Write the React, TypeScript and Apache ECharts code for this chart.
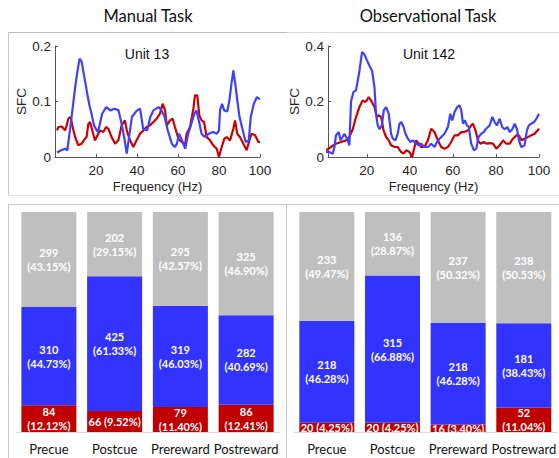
import { useEffect, useRef } from 'react';
import * as echarts from 'echarts';

// ---- Line charts: spike-field coherence (frequency Hz, SFC) ----
const manualBlue: [number, number][] = [
  [1,0.008],[3,0.012],[5,0.015],[6,0.012],[7,0.04],[8,0.069],[9,0.1],[10,0.13],[11,0.156],[12,0.177],[13,0.172],[14,0.15],[15,0.13],[16,0.108],[17,0.09],[18,0.075],[19,0.057],[20,0.05],[21,0.045],[23,0.078],[25,0.09],[27,0.084],[29,0.087],[31,0.084],[32.5,0.06],[34,0.03],[35,0.006],[37.5,0.072],[40,0.084],[41.5,0.087],[43,0.051],[45,0.048],[46.5,0.072],[48,0.084],[50.5,0.09],[52,0.084],[53.5,0.072],[55,0.048],[57,0.024],[58.5,0.018],[59.5,0.024],[60.5,0.042],[62,0.03],[63.5,0.015],[65,0.042],[66.5,0.06],[68,0.078],[69,0.084],[70.5,0.06],[71.5,0.042],[73,0.036],[75,0.042],[77,0.045],[79,0.042],[80,0.048],[80.5,0.084],[81.5,0.096],[82.5,0.084],[84,0.082],[85,0.1],[86,0.13],[87,0.156],[88,0.13],[89,0.1],[90,0.072],[92,0.042],[93,0.027],[94.5,0.03],[95.5,0.072],[97,0.096],[98.5,0.108],[100,0.104]
];
const manualRed: [number, number][] = [
  [1,0.048],[1.6,0.054],[3.3,0.055],[4.9,0.048],[5.7,0.057],[6.5,0.069],[7.6,0.072],[8.6,0.054],[9.8,0.036],[11.4,0.021],[13,0.024],[14.6,0.033],[15.4,0.036],[16.3,0.06],[17.1,0.063],[18.4,0.045],[19.5,0.03],[21.1,0.042],[22,0.048],[23.6,0.045],[24.9,0.054],[26,0.051],[27.6,0.036],[29.3,0.024],[30.9,0.03],[32.5,0.057],[34.1,0.066],[35,0.048],[36.6,0.03],[38.2,0.018],[39.8,0.03],[41.5,0.042],[43.1,0.048],[44.7,0.054],[46.3,0.057],[48,0.063],[49.6,0.069],[51.2,0.078],[52.5,0.096],[53.7,0.084],[54.5,0.057],[56.1,0.066],[57.4,0.069],[58.5,0.054],[60.2,0.033],[61.8,0.027],[63.4,0.021],[64.2,0.042],[65.9,0.054],[67.5,0.087],[68.3,0.111],[69.4,0.111],[70.4,0.075],[71.5,0.066],[72.7,0.063],[74,0.036],[75.6,0.03],[77.2,0.021],[78.9,0.015],[80,0],[81.3,0.018],[82.6,0.033],[83.7,0.036],[85.4,0.03],[87,0.051],[87.8,0.066],[88.9,0.042],[90.2,0.036],[91.9,0.024],[93.5,0.012],[94.8,0.03],[95.9,0.042],[97.6,0.039],[99.2,0.027],[100,0.027]
];
const obsBlue: [number, number][] = [
  [1.1,0.018],[2.6,0.018],[4.2,0.012],[5,0.036],[5.7,0.078],[7,0.09],[7.8,0.06],[8.8,0.072],[9.6,0.084],[11.2,0.06],[11.9,0.042],[12.7,0.2],[13.8,0.234],[15,0.24],[16.6,0.31],[17.8,0.378],[18.9,0.37],[20,0.35],[21.2,0.33],[22.5,0.31],[23.6,0.25],[24.3,0.156],[25.1,0.114],[25.9,0.1],[27,0.114],[27.9,0.168],[29,0.18],[30.2,0.156],[31.3,0.084],[32.1,0.066],[33.3,0.06],[34.4,0.084],[35.2,0.12],[36,0.126],[37.1,0.108],[38,0.084],[39.1,0.066],[40.3,0.054],[41.4,0.06],[42.9,0.048],[44.2,0.042],[45.3,0.048],[46.8,0.036],[48.4,0.036],[49.9,0.048],[51.5,0.036],[52.2,0.048],[53.8,0.066],[56.1,0.084],[57.7,0.108],[58.8,0.156],[59.7,0.132],[60.8,0.162],[62,0.18],[63.1,0.186],[63.9,0.168],[64.7,0.12],[65.6,0.132],[66.5,0.114],[67.4,0.108],[68.5,0.048],[69.8,0.024],[70.9,0.03],[71.9,0.072],[73.2,0.084],[74.3,0.09],[75.2,0.1],[76.3,0.108],[77.1,0.114],[78.3,0.144],[79.4,0.126],[80.5,0.114],[81.7,0.138],[82.9,0.108],[84,0.1],[85.3,0.108],[86.4,0.09],[87.6,0.1],[88.7,0.12],[89.8,0.1],[90.7,0.06],[91.8,0.036],[93.3,0.042],[94.4,0.096],[95.3,0.114],[96.4,0.12],[97.7,0.126],[98.8,0.138],[100,0.156]
];
const obsRed: [number, number][] = [
  [1.1,0.024],[3.4,0.036],[5.7,0.048],[8.1,0.054],[10.4,0.06],[11.9,0.072],[13.5,0.1],[15,0.144],[16.6,0.18],[18.1,0.204],[19.2,0.198],[20,0.204],[20.9,0.216],[22,0.204],[23.6,0.18],[24.7,0.144],[25.6,0.15],[26.7,0.144],[27.8,0.096],[29,0.072],[30.2,0.06],[31.3,0.042],[32.9,0.036],[34.4,0.036],[36,0.018],[37.1,0.012],[38.3,0.024],[39.8,0.018],[41.1,0],[42.2,0.036],[42.9,0.06],[44.2,0.048],[45.3,0.036],[46.8,0.036],[48.4,0.06],[49.9,0.102],[51.5,0.09],[53,0.06],[54.6,0.036],[56.1,0.03],[57.7,0.036],[59.2,0.054],[60.8,0.078],[62.3,0.078],[63.9,0.09],[65.4,0.09],[67,0.096],[68.5,0.114],[69.3,0.12],[70.5,0.096],[71.6,0.06],[72.9,0.048],[74.3,0.054],[75.5,0.048],[77.1,0.05],[78.6,0.048],[80.2,0.03],[81.7,0.042],[83.3,0.06],[84.8,0.048],[86.4,0.048],[87.9,0.066],[89.5,0.078],[90.7,0.078],[91.8,0.06],[93.3,0.066],[94.9,0.072],[96.4,0.078],[98,0.084],[100,0.102]
];
const freqTicks = [20, 40, 60, 80, 100];

// ---- Stacked bars: unit counts and percentages per epoch ----
const categories = ['Precue', 'Postcue', 'Prereward', 'Postreward'];
const manualRedCount = [84, 66, 79, 86];
const manualRedPct = [12.12, 9.52, 11.40, 12.41];
const manualBlueCount = [310, 425, 319, 282];
const manualBluePct = [44.73, 61.33, 46.03, 40.69];
const manualGreyCount = [299, 202, 295, 325];
const manualGreyPct = [43.15, 29.15, 42.57, 46.90];

const obsRedCount = [20, 20, 16, 52];
const obsRedPct = [4.25, 4.25, 3.40, 11.04];
const obsBlueCount = [218, 315, 218, 181];
const obsBluePct = [46.28, 66.88, 46.28, 38.43];
const obsGreyCount = [233, 136, 237, 238];
const obsGreyPct = [49.47, 28.87, 50.32, 50.53];

const LINE_BLUE = '#4040ff';
const LINE_RED = '#cc0000';
const BAR_BLUE = '#3333ff';
const BAR_RED = '#c00000';
const BAR_GREY = '#bfbfbf';
const AXIS = '#555555';
const TXT = '#262626';
const SANS = '"Liberation Sans", Arial, sans-serif';
const CAL = 'Lato, "Open Sans", sans-serif';

function lineAxes(grid: number, xmin: number, ymax: number, yint: number) {
  const x = {
    type: 'value', gridIndex: grid, min: xmin, max: 100,
    name: 'Frequency (Hz)', nameLocation: 'middle', nameGap: 23,
    nameTextStyle: { fontFamily: SANS, fontSize: 13, color: TXT },
    axisLine: { lineStyle: { color: AXIS, width: 1 } },
    axisTick: { inside: true, length: 3, customValues: freqTicks, lineStyle: { color: AXIS } },
    axisLabel: { customValues: freqTicks, fontFamily: SANS, fontSize: 13.5, color: TXT, margin: 6 },
    splitLine: { show: false },
  };
  const y = {
    type: 'value', gridIndex: grid, min: 0, max: ymax, interval: yint,
    name: 'SFC', nameLocation: 'middle', nameGap: 24,
    nameTextStyle: { fontFamily: SANS, fontSize: 13.5, color: TXT },
    axisLine: { show: true, lineStyle: { color: AXIS, width: 1 } },
    axisTick: { show: true, inside: true, length: 3, lineStyle: { color: AXIS } },
    axisLabel: { fontFamily: SANS, fontSize: 13.5, color: TXT, margin: 4 },
    splitLine: { show: false },
  };
  return { x, y };
}

function lineSeries(data: [number, number][], color: string, axis: number) {
  return {
    type: 'line', data, xAxisIndex: axis, yAxisIndex: axis,
    showSymbol: false, symbol: 'none', smooth: false,
    lineStyle: { color, width: 2.2 }, itemStyle: { color }, z: color === LINE_BLUE ? 3 : 2,
  };
}

function barSeries(pct: number[], counts: number[], color: string, axis: number, stack: string, singleBelow: number) {
  return {
    type: 'bar', stack, xAxisIndex: axis, yAxisIndex: axis, barWidth: 55,
    data: pct,
    itemStyle: { color },
    label: {
      show: true, position: 'inside', color: '#ffffff',
      fontFamily: CAL, fontSize: 11, fontWeight: 'bold', lineHeight: 14,
      formatter: (p: any) => {
        const c = counts[p.dataIndex];
        const v = pct[p.dataIndex].toFixed(2) + '%';
        return pct[p.dataIndex] < singleBelow ? `${c} (${v})` : `${c}\n(${v})`;
      },
    },
  };
}

function hline(x1: number, x2: number, y: number, color: string) {
  return { type: 'line', shape: { x1, y1: y + 0.5, x2, y2: y + 0.5 }, style: { stroke: color, lineWidth: 1 }, silent: true };
}
function vline(x: number, y1: number, y2: number, color: string) {
  return { type: 'line', shape: { x1: x + 0.5, y1, x2: x + 0.5, y2 }, style: { stroke: color, lineWidth: 1 }, silent: true };
}

export default function App() {
  const ref = useRef<HTMLDivElement>(null);
  useEffect(() => {
    if (!ref.current) return;
    const chart = echarts.init(ref.current, undefined, { renderer: 'svg' });
    const a0 = lineAxes(0, 0, 0.2, 0.1);
    const a1 = lineAxes(1, 2, 0.4, 0.2);
    const catAxis = (grid: number) => ({
      type: 'category', gridIndex: grid, data: categories,
      axisLine: { lineStyle: { color: '#d9d9d9', width: 1 } },
      axisTick: { show: false },
      axisLabel: { interval: 0, hideOverlap: false, fontFamily: CAL, fontSize: 13, color: '#111', margin: 10 },
    });
    const pctAxis = (grid: number) => ({ type: 'value', gridIndex: grid, min: 0, max: 100, show: false });
    chart.setOption({
      animation: false,
      backgroundColor: '#ffffff',
      grid: [
        { left: 55, right: 299, top: 46, bottom: 301 },
        { left: 328, right: 20, top: 46, bottom: 301 },
        { left: 16, right: 280, top: 212, bottom: 26 },
        { left: 294, right: 1, top: 212, bottom: 26 },
      ],
      xAxis: [a0.x, a1.x, catAxis(2), catAxis(3)],
      yAxis: [a0.y, a1.y, pctAxis(2), pctAxis(3)],
      series: [
        lineSeries(manualRed, LINE_RED, 0),
        lineSeries(manualBlue, LINE_BLUE, 0),
        lineSeries(obsRed, LINE_RED, 1),
        lineSeries(obsBlue, LINE_BLUE, 1),
        barSeries(manualRedPct, manualRedCount, BAR_RED, 2, 'm', 10),
        barSeries(manualBluePct, manualBlueCount, BAR_BLUE, 2, 'm', 0),
        barSeries(manualGreyPct, manualGreyCount, BAR_GREY, 2, 'm', 0),
        barSeries(obsRedPct, obsRedCount, BAR_RED, 3, 'o', 10),
        barSeries(obsBluePct, obsBlueCount, BAR_BLUE, 3, 'o', 0),
        barSeries(obsGreyPct, obsGreyCount, BAR_GREY, 3, 'o', 0),
      ],
      graphic: [
        hline(8, 287, 32, '#bdbdbd'),
        hline(287, 559, 32, '#dcdcdc'),
        vline(8, 32, 195, '#c8c8c8'),
        hline(8, 559, 195, '#e3e3e3'),
        hline(8, 559, 204, '#c8c8c8'),
        vline(8, 204, 458, '#c8c8c8'),
        vline(286, 204, 458, '#c8c8c8'),
        { type: 'text', x: 148, y: 16, style: { text: 'Manual Task', fontFamily: CAL, fontSize: 16.5, fill: '#111', align: 'center', verticalAlign: 'middle' } },
        { type: 'text', x: 428, y: 16, style: { text: 'Observational Task', fontFamily: CAL, fontSize: 16.5, fill: '#111', align: 'center', verticalAlign: 'middle' } },
        { type: 'text', x: 147, y: 54, style: { text: 'Unit 13', fontFamily: SANS, fontSize: 14, fill: '#111', align: 'center', verticalAlign: 'middle' } },
        { type: 'text', x: 429, y: 54, style: { text: 'Unit 142', fontFamily: SANS, fontSize: 14, fill: '#111', align: 'center', verticalAlign: 'middle' } },
      ],
    });
    return () => chart.dispose();
  }, []);
  return (
    <div
      ref={ref}
      style={{ position: 'fixed', left: 0, top: 0, width: 559, height: 458, background: '#fff' }}
    />
  );
}
